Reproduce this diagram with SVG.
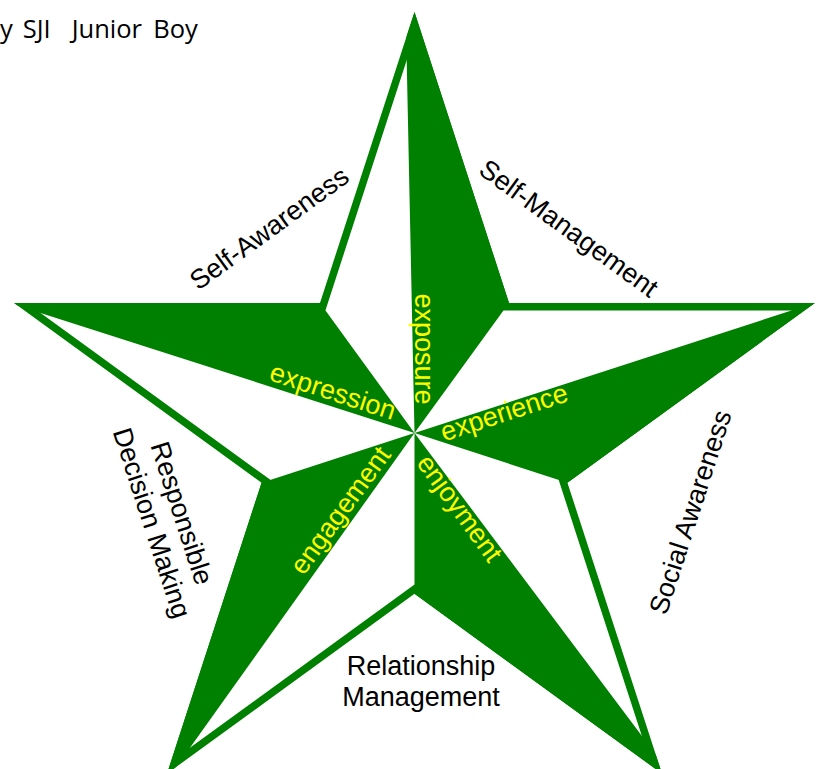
<svg xmlns="http://www.w3.org/2000/svg" width="821" height="769" viewBox="0 0 821 769">
  <style>
    .lbl { font-family: "Liberation Sans", Arial, sans-serif; font-size: 27px; fill: #000000; text-anchor: middle; }
    .ylw { font-family: "Liberation Sans", Arial, sans-serif; font-size: 27px; fill: #FFFF00; text-anchor: middle; }
    .title { font-family: "Open Sans", "Liberation Sans", sans-serif; font-size: 25.5px; fill: #000000; }
    .green { fill: #008000; }
    .white { fill: #FFFFFF; }
  </style>
  <defs>
    <clipPath id="outerClip">
      <polygon points="414.5,12 509.02,302.90 814.90,302.90 567.44,482.69 661.96,773.60 414.5,593.81 167.04,773.60 261.56,482.69 14.10,302.90 319.98,302.90"/>
    </clipPath>
  </defs>
  <rect x="0" y="0" width="821" height="769" fill="#FFFFFF"/>

  <g id="title">
    <text class="title" y="38"><tspan x="0">y</tspan><tspan x="22.7">SJI</tspan><tspan x="71.7">Junior</tspan><tspan x="153.3">Boy</tspan></text>
  </g>

  <g id="star">
    <polygon id="star-outline" class="green" points="414.5,12 509.02,302.90 814.90,302.90 567.44,482.69 661.96,773.60 414.5,593.81 167.04,773.60 261.56,482.69 14.10,302.90 319.98,302.90"/>
    <polygon id="star-inner" class="white" points="414.5,36.25 503.58,310.39 791.83,310.39 558.63,479.83 647.71,753.98 414.5,584.55 181.29,753.98 270.37,479.83 37.17,310.39 325.42,310.39"/>
    <g id="star-halves" clip-path="url(#outerClip)">
      <polygon class="green" points="414.5,433 372.6,-1566.6 1590.1,-1185.0"/>
      <polygon class="green" points="414.5,433 2316.6,-185.0 2316.6,1051.0"/>
      <polygon class="green" points="414.5,433 1615.3,2032.4 414.5,2433"/>
      <polygon class="green" points="414.5,433 -746.9,2061.2 -1487.6,1051.0"/>
      <polygon class="green" points="414.5,433 -1489.8,-178.4 -761.1,-1185.0"/>
    </g>
  </g>

  <g id="label-self-awareness" transform="translate(269,228) rotate(-36)">
    <text class="lbl" x="0" y="9.5">Self-Awareness</text>
  </g>
  <g id="label-self-management" transform="translate(569,228) rotate(36)">
    <text class="lbl" x="0" y="9.5">Self-Management</text>
  </g>
  <g id="label-social-awareness" transform="translate(690,512) rotate(-72)">
    <text class="lbl" x="0" y="9.5">Social Awareness</text>
  </g>
  <g id="label-relationship-management">
    <text class="lbl" x="421" y="675">Relationship</text>
    <text class="lbl" x="421" y="706">Management</text>
  </g>
  <g id="label-responsible-decision-making" transform="translate(167,518) rotate(72)">
    <text class="lbl" x="0" y="-6.5">Responsible</text>
    <text class="lbl" x="0" y="25">Decision Making</text>
  </g>

  <g id="label-exposure" transform="translate(424,349) rotate(90)">
    <text class="ylw" x="0" y="9.5">exposure</text>
  </g>
  <g id="label-expression" transform="translate(333,391) rotate(18)">
    <text class="ylw" x="0" y="9.5">expression</text>
  </g>
  <g id="label-experience" transform="translate(504,412) rotate(-18)">
    <text class="ylw" x="0" y="9.5">experience</text>
  </g>
  <g id="label-enjoyment" transform="translate(460,508) rotate(54)">
    <text class="ylw" x="0" y="9.5">enjoyment</text>
  </g>
  <g id="label-engagement" transform="translate(340,510) rotate(-54)">
    <text class="ylw" x="0" y="9.5">engagement</text>
  </g>
</svg>
